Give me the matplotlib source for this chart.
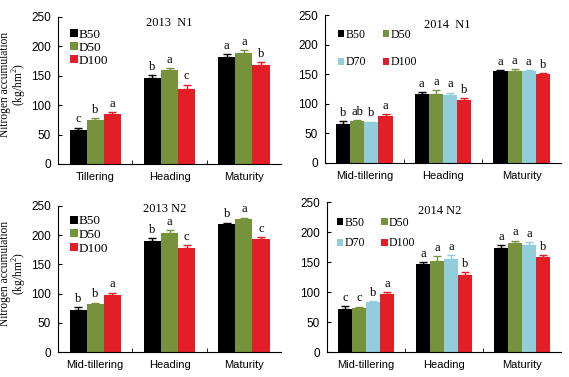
import matplotlib
matplotlib.use("Agg")
import matplotlib.pyplot as plt
import numpy as np

# ---- data ----
stages_a = ["Tillering", "Heading", "Maturity"]
stages_b = ["Mid-tillering", "Heading", "Maturity"]

n1_2013_B50 = [58, 147, 182]
n1_2013_D50 = [74.5, 160, 189]
n1_2013_D100 = [85, 128, 168]
n1_2013_err = [[4, 4, 5], [3, 3, 4], [3, 7, 5]]
n1_2013_let = [["c", "b", "a"], ["b", "a", "a"], ["a", "c", "b"]]

n1_2014_B50 = [66, 116, 155]
n1_2014_D50 = [71, 116, 156]
n1_2014_D70 = [68.5, 115, 155.5]
n1_2014_D100 = [80, 106, 150]
n1_2014_err = [[4, 4, 2], [1.5, 7, 3], [1, 4, 1.5], [2.5, 3, 1.5]]
n1_2014_let = [["b", "a", "a"], ["ab", "a", "a"], ["b", "a", "a"], ["a", "b", "b"]]

n2_2013_B50 = [72, 190.5, 219]
n2_2013_D50 = [81.5, 204, 228]
n2_2013_D100 = [97.5, 178.5, 194]
n2_2013_err = [[5, 4, 2], [3, 4, 2], [4, 4, 3]]
n2_2013_let = [["b", "b", "b"], ["b", "a", "a"], ["a", "c", "c"]]

n2_2014_B50 = [71.5, 147, 174]
n2_2014_D50 = [73, 151.5, 181.5]
n2_2014_D70 = [83, 155, 179]
n2_2014_D100 = [96.5, 129, 158]
n2_2014_err = [[5, 3, 4], [3, 8, 4], [2, 6, 4], [3, 4, 3]]
n2_2014_let = [["c", "a", "a"], ["c", "a", "a"], ["b", "a", "a"], ["a", "b", "b"]]

colors = {"B50": "#000000", "D50": "#76923C", "D70": "#92CDDC", "D100": "#E41E26"}

serif = ["Liberation Serif", "DejaVu Serif"]
sans = ["Liberation Sans", "DejaVu Sans"]
plt.rcParams["mathtext.fontset"] = "custom"
plt.rcParams["mathtext.rm"] = "Liberation Serif"

fig = plt.figure(figsize=(5.69, 3.77), dpi=100)

def panel(rect, stages, series, names, errs, letters, title, title_xy, ylabel,
          ncol, leg_bbox, lspace, lsize):
    ax = fig.add_axes(rect)
    n = len(series)
    ncat = len(stages)
    bw = 0.23 if n == 3 else 0.18
    x = np.arange(ncat)
    handles = {}
    for i, (vals, name) in enumerate(zip(series, names)):
        pos = x + (i - (n - 1) / 2) * bw
        c = colors[name]
        h = ax.bar(pos, vals, width=bw, color=c, label=name, zorder=2)
        handles[name] = h
        ax.errorbar(pos, vals, yerr=[np.zeros(ncat), errs[i]], fmt="none",
                    ecolor=c, elinewidth=1.0, capsize=2.8, capthick=1.0, zorder=3)
        for j in range(ncat):
            ax.text(pos[j], vals[j] + errs[i][j] + 4, letters[i][j], ha="center",
                    va="bottom", fontsize=9, family=serif)
    ax.set_xlim(-0.5, ncat - 0.5)
    ax.set_ylim(0, 250)
    ax.set_yticks([0, 50, 100, 150, 200, 250])
    ax.set_xticks(x)
    ax.set_xticklabels(stages, family=sans, fontsize=8)
    ax.tick_params(axis="x", length=0, pad=6)
    ax.set_xticks([0.5, 1.5], minor=True)
    ax.tick_params(axis="x", which="minor", direction="in", length=3)
    ax.tick_params(axis="y", direction="in", length=3, labelsize=8.5, pad=5)
    for lab in ax.get_yticklabels():
        lab.set_family(sans)
    for s in ["top", "right"]:
        ax.spines[s].set_visible(False)
    ax.text(title_xy[0], title_xy[1], title, transform=ax.transAxes, ha="center",
            va="center", fontsize=9, family=serif)
    if ylabel:
        ax.set_ylabel("Nitrogen accumulation\n(kg/hm$^{\\mathrm{2}}$)", family=serif,
                      fontsize=8.3, linespacing=1.0)
        ax.yaxis.set_label_coords(-0.128, 0.54)
    if ncol == 2:
        order = [names[0], names[2], names[1], names[3]]
    else:
        order = names
    ax.legend([handles[k] for k in order], order, loc="upper left",
              bbox_to_anchor=leg_bbox, ncol=ncol, frameon=False,
              prop={"family": serif, "size": lsize}, handlelength=0.55, handleheight=0.55,
              handletextpad=0.1, columnspacing=1.4, labelspacing=lspace,
              borderaxespad=0, borderpad=0)
    return ax

panel([0.102, 0.565, 0.392, 0.39], stages_a,
      [n1_2013_B50, n1_2013_D50, n1_2013_D100], ["B50", "D50", "D100"],
      n1_2013_err, n1_2013_let, "2013  N1", (0.5, 0.96), True, 1, (0.055, 0.92), 0.08, 9.5)

panel([0.571, 0.568, 0.415, 0.392], stages_b,
      [n1_2014_B50, n1_2014_D50, n1_2014_D70, n1_2014_D100], ["B50", "D50", "D70", "D100"],
      n1_2014_err, n1_2014_let, "2014  N1", (0.52, 0.93), False, 2, (0.055, 0.905), 1.3, 8.5)

panel([0.102, 0.066, 0.392, 0.388], stages_b,
      [n2_2013_B50, n2_2013_D50, n2_2013_D100], ["B50", "D50", "D100"],
      n2_2013_err, n2_2013_let, "2013 N2", (0.48, 0.98), True, 1, (0.055, 0.935), 0.12, 9.5)

panel([0.575, 0.066, 0.411, 0.398], stages_b,
      [n2_2014_B50, n2_2014_D50, n2_2014_D70, n2_2014_D100], ["B50", "D50", "D70", "D100"],
      n2_2014_err, n2_2014_let, "2014 N2", (0.48, 0.94), False, 2, (0.04, 0.9), 0.7, 8.5)

fig.savefig("out.png", dpi=100)
